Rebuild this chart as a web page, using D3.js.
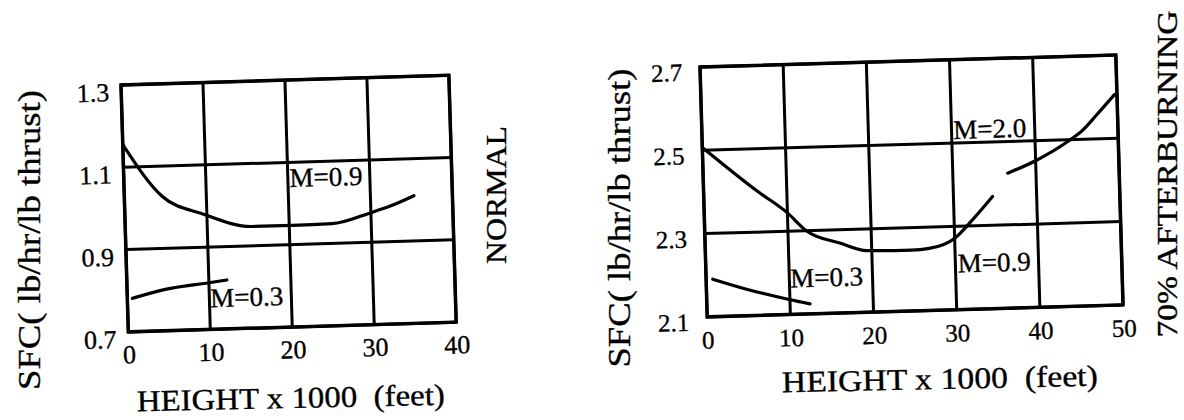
<!DOCTYPE html>
<html>
<head>
<meta charset="utf-8">
<script src="https://cdn.jsdelivr.net/npm/d3@7"></script>
<style>
body{margin:0;background:#fff;}
text{font-family:"Liberation Serif","Times New Roman",serif;fill:#000;stroke:#000;stroke-width:0.35px;}
</style>
</head>
<body>
<svg id="chart" width="1184" height="420"></svg>
<script>
// left panel (NORMAL)
var normTicksX = [0, 10, 20, 30, 40];
var normTicksY = [0.7, 0.9, 1.1, 1.3];
var normM09x = [0, 4.6, 9.5, 15.5, 20.4, 25.2, 30, 32.3, 35.3];
var normM09y = [1.155, 1.027, 0.981, 0.947, 0.947, 0.948, 0.972, 0.986, 1.010];
var normM03x = [0.6, 4.8, 10.2, 12.2];
var normM03y = [0.781, 0.801, 0.814, 0.819];
var normLabels = ["M=0.9", "M=0.3"];
var normLabelX = [20.2, 10.1];
var normLabelY = [1.04, 0.754];

// right panel (70% AFTERBURNING)
var abTicksX = [0, 10, 20, 30, 40, 50];
var abTicksY = [2.1, 2.3, 2.5, 2.7];
var abM09x = [0, 6.6, 10, 12.2, 16.2, 19.4, 24.8, 26.9, 30.1, 31.9, 34.7];
var abM09y = [2.507, 2.396, 2.344, 2.30, 2.268, 2.248, 2.246, 2.249, 2.273, 2.308, 2.369];
var abM20x = [36.6, 40, 44.1, 45.7, 47.5, 49.7];
var abM20y = [2.424, 2.452, 2.498, 2.521, 2.558, 2.605];
var abM03x = [0.8, 4.6, 9.9, 12.4];
var abM03y = [2.19, 2.165, 2.136, 2.124];
var abLabels = ["M=2.0", "M=0.9", "M=0.3"];
var abLabelX = [30.2, 30.3, 10.1];
var abLabelY = [2.51, 2.189, 2.165];

var svg = d3.select("#chart");

function zip(xs, ys){
	var out = [];
	for(var i = 0; i < xs.length; i++){
		out.push([xs[i], ys[i]]);
	}
	return out;
}

function drawPanel(p){
	var g = svg.append("g")
		.attr("transform", "translate(" + p.left + "," + p.top + ") rotate(" + p.rot + ")");

	var x = d3.scaleLinear().domain([p.ticksX[0], p.ticksX[p.ticksX.length - 1]]).range([0, p.w]);
	var y = d3.scaleLinear().domain([p.ticksY[0], p.ticksY[p.ticksY.length - 1]]).range([p.h, 0]);

	// grid
	g.selectAll("line.vx")
	  .data(p.ticksX)
	  .enter()
	  .append("line")
	  .attr("x1", function(d){ return x(d); })
	  .attr("x2", function(d){ return x(d); })
	  .attr("y1", 0)
	  .attr("y2", p.h)
	  .attr("stroke", "#000")
	  .attr("stroke-width", 3);

	g.selectAll("line.hy")
	  .data(p.ticksY)
	  .enter()
	  .append("line")
	  .attr("x1", 0)
	  .attr("x2", p.w)
	  .attr("y1", function(d){ return y(d); })
	  .attr("y2", function(d){ return y(d); })
	  .attr("stroke", "#000")
	  .attr("stroke-width", 3);

	g.append("rect")
	  .attr("width", p.w)
	  .attr("height", p.h)
	  .attr("fill", "none")
	  .attr("stroke", "#000")
	  .attr("stroke-width", 3.5);

	// tick labels
	var ax = g.append("g")
		.attr("transform", "translate(0," + p.h + ")")
		.call(d3.axisBottom(x).tickValues(p.ticksX).tickSize(0).tickPadding(p.padX).tickFormat(d3.format("d")));
	ax.select(".domain").remove();
	ax.attr("font-family", null).attr("font-size", null);
	ax.selectAll("text").style("font-size", p.tickFont + "px").attr("fill", "#000");

	var ay = g.append("g")
		.call(d3.axisLeft(y).tickValues(p.ticksY).tickSize(0).tickPadding(p.padY).tickFormat(d3.format(".1f")));
	ay.select(".domain").remove();
	ay.attr("font-family", null).attr("font-size", null);
	ay.selectAll("text").style("font-size", p.tickFont + "px").attr("y", p.dyY).attr("fill", "#000");

	// curves
	var line = d3.line()
		.x(function(d){ return x(d[0]); })
		.y(function(d){ return y(d[1]); })
		.curve(d3.curveMonotoneX);

	g.selectAll("path.curve")
	  .data(p.series)
	  .enter()
	  .append("path")
	  .attr("d", function(d){ return line(d); })
	  .attr("fill", "none")
	  .attr("stroke", "#000")
	  .attr("stroke-width", 3.2)
	  .attr("stroke-linecap", "round");

	// curve labels
	g.selectAll("text.lab")
	  .data(p.labels)
	  .enter()
	  .append("text")
	  .attr("x", function(d, i){ return x(p.labelX[i]); })
	  .attr("y", function(d, i){ return y(p.labelY[i]); })
	  .style("font-size", "27px")
	  .text(function(d){ return d; });
}

drawPanel({
	left: 121, top: 85, rot: -1.7, w: 328, h: 247,
	ticksX: normTicksX, ticksY: normTicksY,
	padX: 13, padY: 12, dyY: 7, tickFont: 26,
	series: [zip(normM09x, normM09y), zip(normM03x, normM03y)],
	labels: normLabels, labelX: normLabelX, labelY: normLabelY
});

drawPanel({
	left: 700, top: 67, rot: -1.65, w: 416, h: 250,
	ticksX: abTicksX, ticksY: abTicksY,
	padX: 14, padY: 18, dyY: 5, tickFont: 25,
	series: [zip(abM09x, abM09y), zip(abM20x, abM20y), zip(abM03x, abM03y)],
	labels: abLabels, labelX: abLabelX, labelY: abLabelY
});

// titles
function title(txt, cx, cy, rot, size, len){
	svg.append("text")
	  .attr("transform", "translate(" + cx + "," + cy + ") rotate(" + rot + ")")
	  .attr("text-anchor", "middle")
	  .attr("textLength", len)
	  .attr("lengthAdjust", "spacingAndGlyphs")
	  .style("font-size", size + "px")
	  .style("white-space", "pre")
	  .text(txt);
}

title("SFC( lb/hr/lb thrust)", 40, 240, -90, 32, 300);
title("HEIGHT x 1000  (feet)", 291, 408, -1.2, 30, 308);
title("NORMAL", 506, 195, -90, 30, 138);
title("SFC( lb/hr/lb thrust)", 630, 218, -90, 32, 299);
title("HEIGHT x 1000  (feet)", 940, 389, -1.2, 30, 316);
title("70% AFTERBURNING", 1177, 174, -90, 29, 327);
</script>
</body>
</html>
